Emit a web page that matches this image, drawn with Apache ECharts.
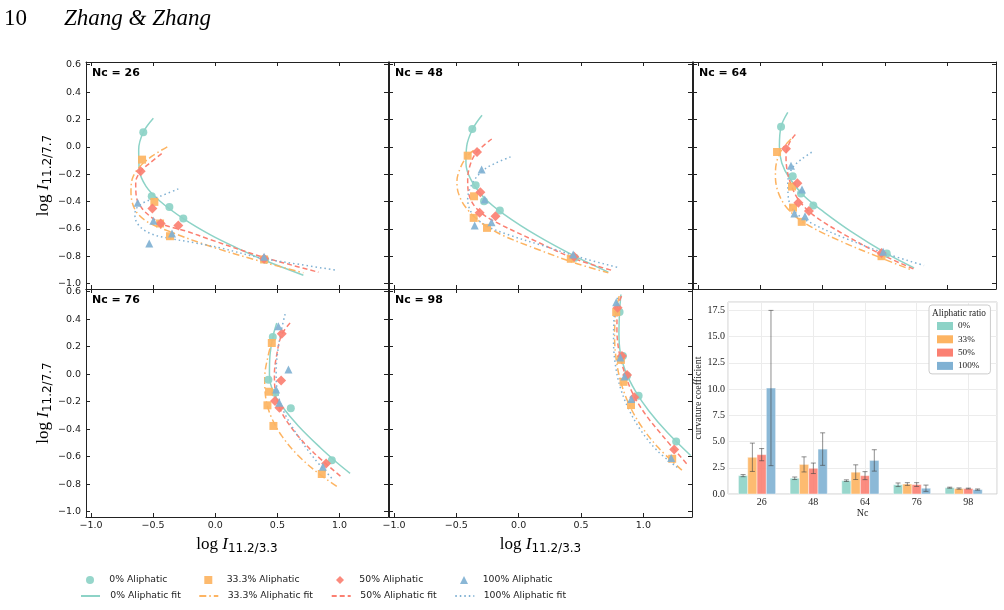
<!DOCTYPE html>
<html>
<head>
<meta charset="utf-8">
<script src="https://cdn.jsdelivr.net/npm/echarts@6.0.0/dist/echarts.min.js"></script>
<style>
  html, body { margin: 0; padding: 0; background: #fff; }
  #chart { width: 1004px; height: 610px; }
</style>
</head>
<body>
<div id="chart"></div>
<script>
// ---- data: markers per panel, order = 0%, 33.3%, 50%, 100% aliphatic ----
const pts26 = [
  [[-0.579, 0.106], [-0.511, -0.362], [-0.369, -0.440], [-0.257, -0.525], [0.401, -0.824]],
  [[-0.589, -0.094], [-0.490, -0.403], [-0.444, -0.561], [-0.364, -0.654], [0.393, -0.824]],
  [[-0.600, -0.179], [-0.506, -0.452], [-0.439, -0.561], [-0.297, -0.576], [0.393, -0.819]],
  [[-0.624, -0.410], [-0.498, -0.540], [-0.348, -0.634], [-0.531, -0.707], [0.393, -0.805]]
];
const fit26 = [
  [[-0.498, 0.208], [-0.579, 0.106], [-0.616, -0.021], [-0.611, -0.167], [-0.557, -0.289], [-0.444, -0.398], [-0.257, -0.525], [-0.042, -0.642], [0.173, -0.739], [0.401, -0.832], [0.709, -0.939]],
  [[-0.386, 0.000], [-0.498, -0.062], [-0.605, -0.143], [-0.668, -0.235], [-0.678, -0.330], [-0.646, -0.459], [-0.552, -0.545], [-0.337, -0.630], [-0.042, -0.727], [0.361, -0.837], [0.709, -0.922]],
  [[-0.431, -0.050], [-0.525, -0.118], [-0.600, -0.179], [-0.640, -0.260], [-0.636, -0.360], [-0.590, -0.450], [-0.500, -0.525], [-0.418, -0.569], [-0.230, -0.618], [-0.042, -0.678], [0.361, -0.800], [0.830, -0.917]],
  [[-0.297, -0.308], [-0.444, -0.362], [-0.579, -0.410], [-0.640, -0.460], [-0.646, -0.508], [-0.610, -0.580], [-0.520, -0.635], [-0.380, -0.668], [-0.149, -0.705], [0.039, -0.739], [0.361, -0.812], [0.683, -0.861], [0.978, -0.903]]
];

const pts48 = [
  [[-0.372, 0.130], [-0.345, -0.282], [-0.278, -0.398], [-0.151, -0.466], [0.450, -0.812]],
  [[-0.409, -0.065], [-0.358, -0.362], [-0.361, -0.520], [-0.254, -0.593], [0.418, -0.819]],
  [[-0.334, -0.038], [-0.307, -0.333], [-0.313, -0.483], [-0.186, -0.508], [0.445, -0.805]],
  [[-0.297, -0.167], [-0.272, -0.386], [-0.353, -0.576], [-0.218, -0.552], [0.437, -0.788]]
];
const fit48 = [
  [[-0.294, 0.230], [-0.369, 0.130], [-0.417, 0.003], [-0.423, -0.118], [-0.383, -0.240], [-0.275, -0.374], [-0.114, -0.496], [0.155, -0.654], [0.450, -0.800], [0.719, -0.917]],
  [[-0.361, -0.026], [-0.412, -0.067], [-0.468, -0.155], [-0.495, -0.252], [-0.484, -0.337], [-0.431, -0.435], [-0.315, -0.545], [-0.141, -0.642], [0.155, -0.751], [0.450, -0.849], [0.719, -0.922]],
  [[-0.216, 0.057], [-0.337, -0.040], [-0.388, -0.130], [-0.409, -0.240], [-0.399, -0.350], [-0.342, -0.447], [-0.221, -0.532], [0.155, -0.698], [0.450, -0.819], [0.745, -0.903]],
  [[-0.065, -0.074], [-0.194, -0.123], [-0.294, -0.179], [-0.377, -0.277], [-0.409, -0.386], [-0.377, -0.483], [-0.275, -0.569], [-0.087, -0.642], [0.209, -0.727], [0.504, -0.812], [0.807, -0.885]]
];

const pts64 = [
  [[-0.334, 0.147], [-0.240, -0.216], [-0.174, -0.342], [-0.075, -0.430], [0.514, -0.781]],
  [[-0.366, -0.038], [-0.246, -0.291], [-0.238, -0.445], [-0.168, -0.549], [0.472, -0.800]],
  [[-0.294, -0.014], [-0.203, -0.267], [-0.195, -0.410], [-0.110, -0.469], [0.472, -0.776]],
  [[-0.254, -0.138], [-0.166, -0.313], [-0.227, -0.488], [-0.142, -0.508], [0.485, -0.768]]
];
const fit64 = [
  [[-0.280, 0.252], [-0.334, 0.147], [-0.347, 0.003], [-0.328, -0.118], [-0.267, -0.228], [-0.147, -0.362], [0.013, -0.479], [0.226, -0.618], [0.514, -0.781], [0.733, -0.885]],
  [[-0.254, 0.057], [-0.328, -0.021], [-0.371, -0.118], [-0.379, -0.216], [-0.355, -0.337], [-0.286, -0.447], [-0.147, -0.557], [0.146, -0.691], [0.466, -0.812], [0.720, -0.903]],
  [[-0.219, 0.089], [-0.267, 0.028], [-0.294, -0.070], [-0.286, -0.167], [-0.254, -0.277], [-0.195, -0.386], [-0.080, -0.496], [0.173, -0.642], [0.472, -0.788], [0.728, -0.893]],
  [[-0.088, -0.040], [-0.174, -0.094], [-0.248, -0.162], [-0.280, -0.264], [-0.275, -0.374], [-0.227, -0.472], [-0.094, -0.557], [0.173, -0.666], [0.493, -0.776], [0.813, -0.868]]
];

const pts76 = [
  [[0.463, 0.270], [0.428, -0.041], [0.481, -0.135], [0.608, -0.249], [0.938, -0.626]],
  [[0.455, 0.227], [0.433, -0.128], [0.420, -0.227], [0.468, -0.377], [0.857, -0.727]],
  [[0.535, 0.295], [0.530, -0.046], [0.481, -0.196], [0.516, -0.244], [0.892, -0.650]],
  [[0.508, 0.348], [0.589, 0.034], [0.490, -0.111], [0.516, -0.208], [0.866, -0.674]]
];
const fit76 = [
  [[0.495, 0.372], [0.463, 0.270], [0.441, 0.143], [0.436, -0.002], [0.463, -0.123], [0.535, -0.232], [0.669, -0.377], [0.844, -0.534], [0.978, -0.643], [1.085, -0.722]],
  [[0.473, 0.288], [0.428, 0.143], [0.398, -0.027], [0.406, -0.171], [0.447, -0.304], [0.535, -0.449], [0.669, -0.594], [0.844, -0.732], [0.991, -0.824]],
  [[0.602, 0.372], [0.535, 0.288], [0.495, 0.143], [0.476, -0.002], [0.487, -0.147], [0.535, -0.280], [0.643, -0.425], [0.790, -0.570], [1.018, -0.751]],
  [[0.562, 0.437], [0.530, 0.312], [0.503, 0.167], [0.490, 0.022], [0.500, -0.123], [0.549, -0.268], [0.656, -0.437], [0.790, -0.606], [0.950, -0.770]]
];

const pts98 = [
  [[0.809, 0.452], [0.836, 0.133], [0.869, -0.012], [0.962, -0.157], [1.263, -0.490]],
  [[0.782, 0.452], [0.820, 0.104], [0.841, -0.056], [0.901, -0.225], [1.231, -0.616]],
  [[0.793, 0.483], [0.828, 0.133], [0.869, -0.007], [0.927, -0.169], [1.247, -0.548]],
  [[0.782, 0.524], [0.815, 0.121], [0.849, -0.017], [0.903, -0.181], [1.223, -0.611]]
];
const fit98 = [
  [[0.820, 0.580], [0.809, 0.452], [0.804, 0.302], [0.815, 0.157], [0.855, 0.024], [0.935, -0.121], [1.043, -0.266], [1.191, -0.423], [1.379, -0.592]],
  [[0.806, 0.568], [0.777, 0.435], [0.769, 0.278], [0.782, 0.109], [0.820, -0.060], [0.890, -0.230], [0.989, -0.386], [1.123, -0.538], [1.310, -0.700]],
  [[0.825, 0.568], [0.793, 0.483], [0.788, 0.326], [0.806, 0.157], [0.849, 0.012], [0.917, -0.145], [1.024, -0.302], [1.164, -0.459], [1.347, -0.652]],
  [[0.793, 0.556], [0.764, 0.399], [0.761, 0.230], [0.777, 0.060], [0.815, -0.097], [0.882, -0.254], [0.981, -0.411], [1.110, -0.556], [1.285, -0.688]]
];

const xTicks = [-1, -0.5, 0, 0.5, 1];
const yTicks = [-1, -0.8, -0.6, -0.4, -0.2, 0, 0.2, 0.4, 0.6];

// ---- inset bar chart: curvature coefficient ----
const ncLabels = ['26', '48', '64', '76', '98'];
const ratioNames = ['0%', '33%', '50%', '100%'];
const mean0 = [1.75, 1.50, 1.27, 0.88, 0.60];
const err0 = [0.10, 0.12, 0.08, 0.17, 0.05];
const mean33 = [3.50, 2.82, 2.08, 0.95, 0.52];
const err33 = [1.35, 0.72, 0.70, 0.13, 0.06];
const mean50 = [3.75, 2.45, 1.75, 0.90, 0.52];
const err50 = [0.58, 0.50, 0.38, 0.18, 0.04];
const mean100 = [10.1, 4.28, 3.20, 0.55, 0.42];
const err100 = [7.4, 1.55, 1.02, 0.30, 0.06];
const yBarTicks = 2.5;

// ---- styling / layout ----
const names = ['0% Aliphatic', '33.3% Aliphatic', '50% Aliphatic', '100% Aliphatic'];
const colors = ['#8dd3c7', '#fdb462', '#fb8072', '#80b1d3'];
const symbols = ['circle', 'rect', 'diamond', 'triangle'];
const symSizes = [8, 8, 10, 8];
const dashes = ['solid', [7, 3, 1.5, 3], [5, 3], [1.5, 3]];

const panels = [
  { nc: '26', pts: pts26, fit: fit26, left: 86, top: 62, width: 302, height: 227, xl: false, yl: true, tx: 92, ty: 68 },
  { nc: '48', pts: pts48, fit: fit48, left: 389, top: 62, width: 303, height: 227, xl: false, yl: false, tx: 395, ty: 68 },
  { nc: '64', pts: pts64, fit: fit64, left: 693, top: 62, width: 303, height: 227, xl: false, yl: false, tx: 699, ty: 68 },
  { nc: '76', pts: pts76, fit: fit76, left: 86, top: 289, width: 302, height: 228, xl: true, yl: true, tx: 92, ty: 295 },
  { nc: '98', pts: pts98, fit: fit98, left: 389, top: 289, width: 303, height: 228, xl: true, yl: false, tx: 395, ty: 295 }
];

const fmtNum = (v) => (v < 0 ? '\u2212' : '') + Math.abs(v).toFixed(1);
const frame = { show: true, onZero: false, lineStyle: { color: '#222', width: 1 } };
const tickLbl = { fontFamily: 'DejaVu Sans', fontSize: 9.5, color: '#222' };

const richName = {
  a: { fontFamily: 'Liberation Serif', fontSize: 17, color: '#000' },
  b: { fontFamily: 'Liberation Serif', fontStyle: 'italic', fontSize: 17, color: '#000' },
  c: { fontFamily: 'DejaVu Sans', fontSize: 12, color: '#000', padding: [9, 0, 0, 0] }
};

const chart = echarts.init(document.getElementById('chart'));

const grid = [];
const xAxis = [];
const yAxis = [];
const series = [];
const title = [
  { text: '10', left: 4, top: 7, padding: 0, textStyle: { fontFamily: 'Liberation Serif', fontSize: 23, fontWeight: 'normal', color: '#000' } },
  { text: 'Zhang & Zhang', left: 64, top: 7, padding: 0, textStyle: { fontFamily: 'Liberation Serif', fontStyle: 'italic', fontSize: 23, fontWeight: 'normal', color: '#000' } }
];

panels.forEach((p, i) => {
  grid.push({ left: p.left, top: p.top, width: p.width, height: p.height });
  const xBase = {
    type: 'value', gridIndex: i, min: -1.04, max: 1.39,
    axisLine: frame, splitLine: { show: false },
    axisTick: { show: true, inside: true, length: 4, customValues: xTicks, lineStyle: { color: '#222' } }
  };
  xAxis.push(Object.assign({}, xBase, {
    position: 'bottom',
    axisLabel: Object.assign({ show: p.xl, customValues: xTicks, formatter: fmtNum, margin: 4 }, tickLbl),
    name: p.xl ? '{a|log }{b|I}{c|11.2/3.3}' : '',
    nameLocation: 'middle', nameGap: 17,
    nameTextStyle: { rich: richName }
  }));
  xAxis.push(Object.assign({}, xBase, { position: 'top', axisLabel: { show: false } }));

  const yBase = {
    type: 'value', gridIndex: i, min: -1.04, max: 0.62,
    axisLine: frame, splitLine: { show: false },
    axisTick: { show: true, inside: true, length: 4, customValues: yTicks, lineStyle: { color: '#222' } }
  };
  yAxis.push(Object.assign({}, yBase, {
    position: 'left',
    axisLabel: Object.assign({ show: p.yl, customValues: yTicks, formatter: fmtNum, margin: 5 }, tickLbl),
    name: p.yl ? '{a|log }{b|I}{c|11.2/7.7}' : '',
    nameLocation: 'middle', nameGap: 30, nameRotate: 90,
    nameTextStyle: { rich: richName }
  }));
  yAxis.push(Object.assign({}, yBase, { position: 'right', axisLabel: { show: false } }));

  title.push({
    text: 'Nc = ' + p.nc, left: p.tx, top: p.ty, padding: 0,
    textStyle: { fontFamily: 'DejaVu Sans', fontWeight: 'bold', fontSize: 11, color: '#000' }
  });

  for (let k = 0; k < 4; k++) {
    series.push({
      type: 'line', name: names[k] + ' fit', xAxisIndex: 2 * i, yAxisIndex: 2 * i,
      data: p.fit[k], smooth: 0.35, symbol: 'none', showSymbol: false,
      lineStyle: { color: colors[k], width: 1.5, type: dashes[k] },
      itemStyle: { color: colors[k] }, z: 3, animation: false
    });
    series.push({
      type: 'scatter', name: names[k], xAxisIndex: 2 * i, yAxisIndex: 2 * i,
      data: p.pts[k], symbol: symbols[k], symbolSize: symSizes[k], symbolKeepAspect: true,
      itemStyle: { color: colors[k], opacity: 0.92 }, z: 4, animation: false
    });
  }
});

// inset bar chart (grid index 5)
grid.push({ left: 728, top: 302, width: 269, height: 192, show: true, borderColor: '#cfcfcf', borderWidth: 1 });
xAxis.push({
  type: 'value', gridIndex: 5, min: -0.652, max: 4.555,
  axisLine: { show: false }, axisTick: { show: false },
  axisLabel: { customValues: [0, 1, 2, 3, 4], formatter: (v) => ncLabels[v], margin: 3, fontFamily: 'Liberation Serif', fontSize: 10, color: '#222' },
  splitLine: { show: true, lineStyle: { color: '#ececec', width: 1 } },
  name: 'Nc', nameLocation: 'middle', nameGap: 11,
  nameTextStyle: { fontFamily: 'Liberation Serif', fontSize: 10, color: '#222' }
});
yAxis.push({
  type: 'value', gridIndex: 5, min: 0, max: 18.3, interval: yBarTicks,
  axisLine: { show: false }, axisTick: { show: false },
  axisLabel: { formatter: (v) => v.toFixed(1), margin: 3, fontFamily: 'Liberation Serif', fontSize: 10, color: '#222' },
  splitLine: { show: true, lineStyle: { color: '#ececec', width: 1 } },
  name: 'curvature coefficient', nameLocation: 'middle', nameGap: 17,
  nameTextStyle: { fontFamily: 'Liberation Serif', fontSize: 10, color: '#222' }
});

const barW = 0.18;
const means = [mean0, mean33, mean50, mean100];
const errs = [err0, err33, err50, err100];
for (let k = 0; k < 4; k++) {
  series.push({
    type: 'custom', name: ratioNames[k], xAxisIndex: 10, yAxisIndex: 10,
    data: ncLabels.map((_, j) => [j, means[k][j], errs[k][j]]),
    encode: { x: 0, y: 1 },
    itemStyle: { color: colors[k] },
    animation: false, z: 2,
    renderItem: (params, api) => {
      const cx = api.value(0) + (k - 2) * barW;
      const m = api.value(1);
      const e = api.value(2);
      const tl = api.coord([cx - barW / 2, m]);
      const br = api.coord([cx + barW / 2, 0]);
      const hi = api.coord([cx, m + e]);
      const lo = api.coord([cx, m - e]);
      const cap = 2.5;
      const errStyle = { stroke: '#444', lineWidth: 1, opacity: 0.6 };
      return {
        type: 'group',
        children: [
          { type: 'rect', shape: { x: tl[0], y: tl[1], width: br[0] - tl[0], height: br[1] - tl[1] },
            style: { fill: api.visual('color'), opacity: 0.9, stroke: '#fff', lineWidth: 0.5 } },
          { type: 'line', shape: { x1: hi[0], y1: hi[1], x2: lo[0], y2: lo[1] }, style: errStyle },
          { type: 'line', shape: { x1: hi[0] - cap, y1: hi[1], x2: hi[0] + cap, y2: hi[1] }, style: errStyle },
          { type: 'line', shape: { x1: lo[0] - cap, y1: lo[1], x2: lo[0] + cap, y2: lo[1] }, style: errStyle }
        ]
      };
    }
  });
}

title.push({
  text: 'Aliphatic ratio', left: 932, top: 309, padding: 0,
  textStyle: { fontFamily: 'Liberation Serif', fontSize: 9.3, fontWeight: 'normal', color: '#222' }
});

// bottom legend: marker row and fit-line row, one small legend per column
const markerCenters = [90, 208.3, 340, 464];
const lineStarts = [80, 198.3, 330.7, 454.3];
const textStarts = [109.3, 226.7, 359.3, 482.7];
const legendText = { fontFamily: 'DejaVu Sans', fontSize: 9.3, color: '#222', lineHeight: 12 };
const legend = [];
for (let k = 0; k < 4; k++) {
  const mLeft = markerCenters[k] - 4;
  legend.push({
    data: [names[k]], left: mLeft, top: 574, padding: 0,
    itemWidth: 8, itemHeight: 8,
    textStyle: Object.assign({ padding: [0, 0, 0, textStarts[k] - mLeft - 13] }, legendText),
    selectedMode: false
  });
  legend.push({
    data: [names[k] + ' fit'], left: lineStarts[k], top: 590, padding: 0,
    itemWidth: 19, itemHeight: 8, itemStyle: { opacity: 0 },
    textStyle: Object.assign({ padding: [0, 0, 0, textStarts[k] - lineStarts[k] - 24] }, legendText),
    selectedMode: false
  });
}
legend.push({
  data: ratioNames, orient: 'vertical', left: 929, top: 305,
  padding: [16, 11, 3, 8], backgroundColor: '#fff', borderColor: '#ccc', borderWidth: 1, borderRadius: 3,
  icon: 'rect', itemWidth: 16, itemHeight: 8, itemGap: 3.3,
  textStyle: { fontFamily: 'Liberation Serif', fontSize: 9.2, color: '#222', lineHeight: 10 },
  selectedMode: false
});

chart.setOption({
  animation: false,
  backgroundColor: '#fff',
  title: title,
  legend: legend,
  grid: grid,
  xAxis: xAxis,
  yAxis: yAxis,
  series: series
});
</script>
</body>
</html>
